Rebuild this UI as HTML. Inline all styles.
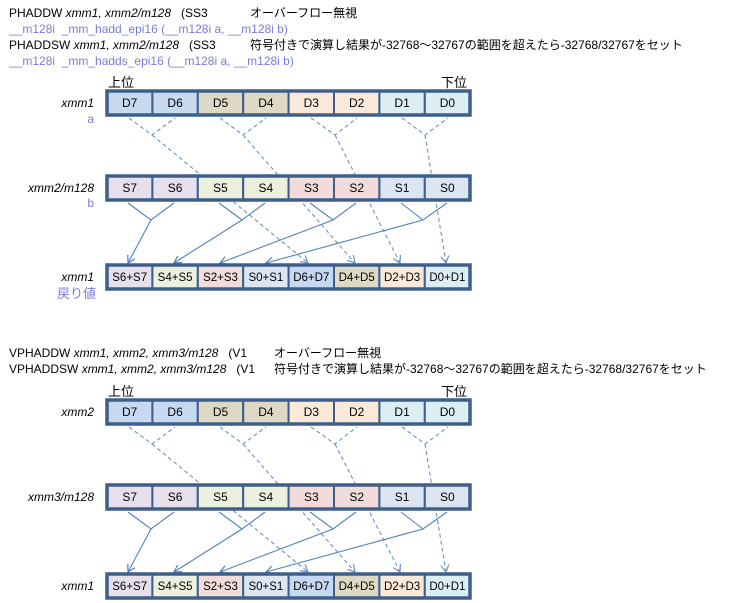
<!DOCTYPE html>
<html><head><meta charset="utf-8"><style>
html,body{margin:0;padding:0;background:#fff;}
svg{display:block;font-family:"Liberation Sans","Noto Sans CJK JP",sans-serif;}
svg text{white-space:pre;}
</style></head><body>
<svg width="733" height="603" xmlns="http://www.w3.org/2000/svg" xml:space="preserve">
<defs>
<marker id="ah" markerWidth="10" markerHeight="10" refX="8" refY="5" orient="auto" markerUnits="userSpaceOnUse">
<path d="M1,1 L8,5 L1,9" fill="none" stroke="#4f81bd" stroke-width="1.2"/>
</marker>
<g id="diag">
  <g stroke="#4f81bd" stroke-width="1.1" stroke-dasharray="4,3" fill="none" opacity="0.85">
    <path d="M129,118 L152,135 L175,118"/>
    <path d="M220,118 L243,135 L266,118"/>
    <path d="M311,118 L335,135 L357,118"/>
    <path d="M402,118 L425,135 L448,118"/>
    <path d="M152,135 L308,263" marker-end="url(#ah)"/>
    <path d="M243,135 L355,263" marker-end="url(#ah)"/>
    <path d="M335,135 L400,263" marker-end="url(#ah)"/>
    <path d="M425,135 L446,263" marker-end="url(#ah)"/>
  </g>
  <rect x="107" y="176" width="363" height="24" fill="#fff"/>
  <g stroke="#3e5f8a" stroke-width="2">
    <rect x="107" y="176" width="45.4" height="24" fill="#e5e0ec"/>
    <rect x="152.4" y="176" width="45.4" height="24" fill="#e5e0ec"/>
    <rect x="197.8" y="176" width="45.4" height="24" fill="#ebf1de"/>
    <rect x="243.2" y="176" width="45.4" height="24" fill="#ebf1de"/>
    <rect x="288.6" y="176" width="45.4" height="24" fill="#f2dcdb"/>
    <rect x="334" y="176" width="45.4" height="24" fill="#f2dcdb"/>
    <rect x="379.4" y="176" width="45.4" height="24" fill="#dce6f2"/>
    <rect x="424.8" y="176" width="45.2" height="24" fill="#dce6f2"/>
  </g>
  <rect x="107" y="176" width="363" height="24" fill="none" stroke="#3e5f8a" stroke-width="3.5"/>
  <g font-size="12" text-anchor="middle" fill="#000">
    <text x="129.7" y="192">S7</text><text x="175.1" y="192">S6</text>
    <text x="220.5" y="192">S5</text><text x="265.9" y="192">S4</text>
    <text x="311.3" y="192">S3</text><text x="356.7" y="192">S2</text>
    <text x="402.1" y="192">S1</text><text x="447.4" y="192">S0</text>
  </g>
  <g stroke="#4f81bd" stroke-width="1.1" fill="none">
    <path d="M128,203 L151,220 L174,203"/>
    <path d="M219,203 L242,220 L265,203"/>
    <path d="M310,203 L333,220 L356,203"/>
    <path d="M401,203 L423,220 L447,203"/>
    <path d="M151,220 L128,263" marker-end="url(#ah)"/>
    <path d="M242,220 L174,263" marker-end="url(#ah)"/>
    <path d="M333,220 L220,263" marker-end="url(#ah)"/>
    <path d="M423,220 L266,263" marker-end="url(#ah)"/>
  </g>
  <g stroke="#3e5f8a" stroke-width="2">
    <rect x="107" y="91" width="45.4" height="24" fill="#c6d9f1"/>
    <rect x="152.4" y="91" width="45.4" height="24" fill="#c6d9f1"/>
    <rect x="197.8" y="91" width="45.4" height="24" fill="#ddd9c4"/>
    <rect x="243.2" y="91" width="45.4" height="24" fill="#ddd9c4"/>
    <rect x="288.6" y="91" width="45.4" height="24" fill="#fde9d9"/>
    <rect x="334" y="91" width="45.4" height="24" fill="#fde9d9"/>
    <rect x="379.4" y="91" width="45.4" height="24" fill="#dbeef4"/>
    <rect x="424.8" y="91" width="45.2" height="24" fill="#dbeef4"/>
  </g>
  <rect x="107" y="91" width="363" height="24" fill="none" stroke="#3e5f8a" stroke-width="3.5"/>
  <g font-size="12" text-anchor="middle" fill="#000">
    <text x="129.7" y="107">D7</text><text x="175.1" y="107">D6</text>
    <text x="220.5" y="107">D5</text><text x="265.9" y="107">D4</text>
    <text x="311.3" y="107">D3</text><text x="356.7" y="107">D2</text>
    <text x="402.1" y="107">D1</text><text x="447.4" y="107">D0</text>
  </g>
  <g stroke="#3e5f8a" stroke-width="2">
    <rect x="107" y="265" width="45.4" height="24" fill="#e5e0ec"/>
    <rect x="152.4" y="265" width="45.4" height="24" fill="#ebf1de"/>
    <rect x="197.8" y="265" width="45.4" height="24" fill="#f2dcdb"/>
    <rect x="243.2" y="265" width="45.4" height="24" fill="#dce6f2"/>
    <rect x="288.6" y="265" width="45.4" height="24" fill="#c6d9f1"/>
    <rect x="334" y="265" width="45.4" height="24" fill="#ddd9c4"/>
    <rect x="379.4" y="265" width="45.4" height="24" fill="#fde9d9"/>
    <rect x="424.8" y="265" width="45.2" height="24" fill="#dbeef4"/>
  </g>
  <rect x="107" y="265" width="363" height="24" fill="none" stroke="#3e5f8a" stroke-width="3.5"/>
  <g font-size="11.5" text-anchor="middle" fill="#000">
    <text x="129.7" y="281">S6+S7</text><text x="175.1" y="281">S4+S5</text>
    <text x="220.5" y="281">S2+S3</text><text x="265.9" y="281">S0+S1</text>
    <text x="311.3" y="281">D6+D7</text><text x="356.7" y="281">D4+D5</text>
    <text x="402.1" y="281">D2+D3</text><text x="447.4" y="281">D0+D1</text>
  </g>
  <text x="108" y="87" font-size="13">上位</text>
  <text x="441" y="87" font-size="13">下位</text>
</g>
</defs>

<g font-size="12" fill="#000">
  <text x="9" y="17">PHADDW <tspan font-style="italic">xmm1, xmm2/m128</tspan>   (SS3</text>
  <text x="9" y="33" fill="#7b7bdf">__m128i  _mm_hadd_epi16 (__m128i a, __m128i b)</text>
  <text x="9" y="49">PHADDSW <tspan font-style="italic">xmm1, xmm2/m128</tspan>   (SS3</text>
  <text x="9" y="65" fill="#7b7bdf">__m128i  _mm_hadds_epi16 (__m128i a, __m128i b)</text>
  <text x="250" y="17">オーバーフロー無視</text>
  <text x="250" y="49">符号付きで演算し結果が-32768～32767の範囲を超えたら-32768/32767をセット</text>

  <text x="9" y="357">VPHADDW <tspan font-style="italic">xmm1, xmm2, xmm3/m128</tspan>   (V1</text>
  <text x="9" y="373">VPHADDSW <tspan font-style="italic">xmm1, xmm2, xmm3/m128</tspan>   (V1</text>
  <text x="274" y="357">オーバーフロー無視</text>
  <text x="274" y="373">符号付きで演算し結果が-32768～32767の範囲を超えたら-32768/32767をセット</text>
</g>

<use href="#diag"/>
<use href="#diag" transform="translate(0,309)"/>

<g font-size="12" font-style="italic" text-anchor="end" fill="#000">
  <text x="94" y="107">xmm1</text>
  <text x="94" y="192">xmm2/m128</text>
  <text x="94" y="281">xmm1</text>
  <text x="94" y="416">xmm2</text>
  <text x="94" y="501">xmm3/m128</text>
  <text x="94" y="590">xmm1</text>
</g>
<g font-size="12" text-anchor="end" fill="#7b7bdf">
  <text x="94" y="123">a</text>
  <text x="94" y="207">b</text>
  <text x="96" y="298" font-size="13">戻り値</text>
</g>
</svg>
</body></html>
